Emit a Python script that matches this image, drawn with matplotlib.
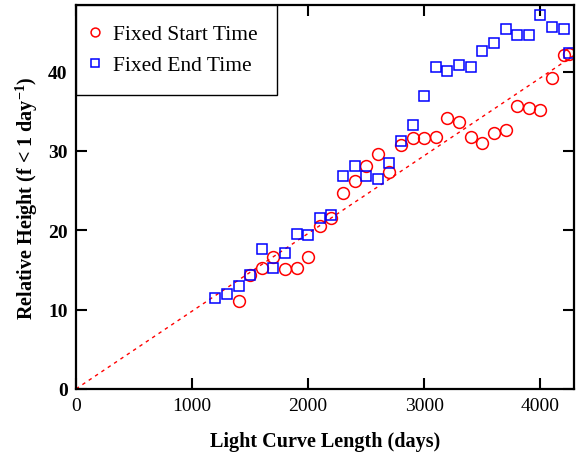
import numpy as np
from matplotlib import pyplot as plt

plt.rcParams['font.family'] = ['Liberation Serif', 'DejaVu Serif']
plt.rcParams['mathtext.fontset'] = 'custom'
plt.rcParams['mathtext.rm'] = 'Liberation Serif'
plt.rcParams['mathtext.bf'] = 'Liberation Serif:bold'
plt.rcParams['mathtext.default'] = 'bf'

# fixed start time (red circles)
start_len = [1400, 1500, 1600, 1700, 1800, 1900, 2000, 2100, 2200, 2300,
             2400, 2500, 2600, 2700, 2800, 2900, 3000, 3100, 3200, 3300,
             3400, 3500, 3600, 3700, 3800, 3900, 4000, 4100, 4200, 4250]
start_height = [11.1, 14.4, 15.2, 16.6, 15.1, 15.2, 16.6, 20.5, 21.6, 24.7,
                26.2, 28.1, 29.6, 27.3, 30.7, 31.6, 31.6, 31.8, 34.2, 33.7,
                31.8, 31.0, 32.2, 32.6, 35.7, 35.4, 35.2, 39.2, 42.1, 42.2]

# fixed end time (blue squares)
end_len = [1200, 1300, 1400, 1500, 1600, 1700, 1800, 1900, 2000, 2100,
           2200, 2300, 2400, 2500, 2600, 2700, 2800, 2900, 3000, 3100,
           3200, 3300, 3400, 3500, 3600, 3700, 3800, 3900, 4000, 4100,
           4200, 4250]
end_height = [11.4, 11.9, 13.0, 14.4, 17.6, 15.3, 17.1, 19.5, 19.4, 21.5,
              21.9, 26.8, 28.1, 26.8, 26.5, 28.5, 31.3, 33.3, 36.9, 40.6,
              40.1, 40.8, 40.6, 42.6, 43.6, 45.4, 44.6, 44.6, 47.1, 45.6,
              45.4, 42.4]

slope = 0.0098
xmax = 4290

fig = plt.figure(figsize=(5.76, 4.56), dpi=100)
ax = fig.add_axes([0.132, 0.145, 0.8645, 0.842])

fit_x = np.array([0, xmax])
ax.plot(fit_x, slope * fit_x, color='red', ls=(0, (2.5, 3)), lw=1)
ax.plot(start_len, start_height, 'o', mfc='none', mec='red', ms=8.5,
        mew=1.1, label='Fixed Start Time')
ax.plot(end_len, end_height, 's', mfc='none', mec='blue', ms=7.5,
        mew=1.1, label='Fixed End Time')

ax.set_xlim(0, xmax)
ax.set_ylim(0, 48.4)
ax.set_xticks([0, 1000, 2000, 3000, 4000])
ax.set_yticks([0, 10, 20, 30, 40])
ax.tick_params(direction='in', top=True, right=True, length=8, width=1.5,
               labelsize=14, pad=6)
for lab in ax.get_yticklabels():
    lab.set_fontweight('bold')
for s in ax.spines.values():
    s.set_linewidth(1.6)

ax.set_xlabel('Light Curve Length (days)', fontsize=14.5, fontweight='bold',
              labelpad=12)
ax.set_ylabel(r'Relative Height (f < 1 day$^{-1}$)', fontsize=14.5,
              fontweight='bold', labelpad=6)

leg = ax.legend(loc='upper left', borderaxespad=0, fancybox=False,
                fontsize=15.5, markerscale=0.75, handletextpad=0.8,
                borderpad=0.9, labelspacing=0.5, handlelength=0.0)
leg.get_frame().set_edgecolor('black')
leg.get_frame().set_linewidth(1.0)
leg.get_frame().set_alpha(1)

fig.savefig('out.png', dpi=100)
